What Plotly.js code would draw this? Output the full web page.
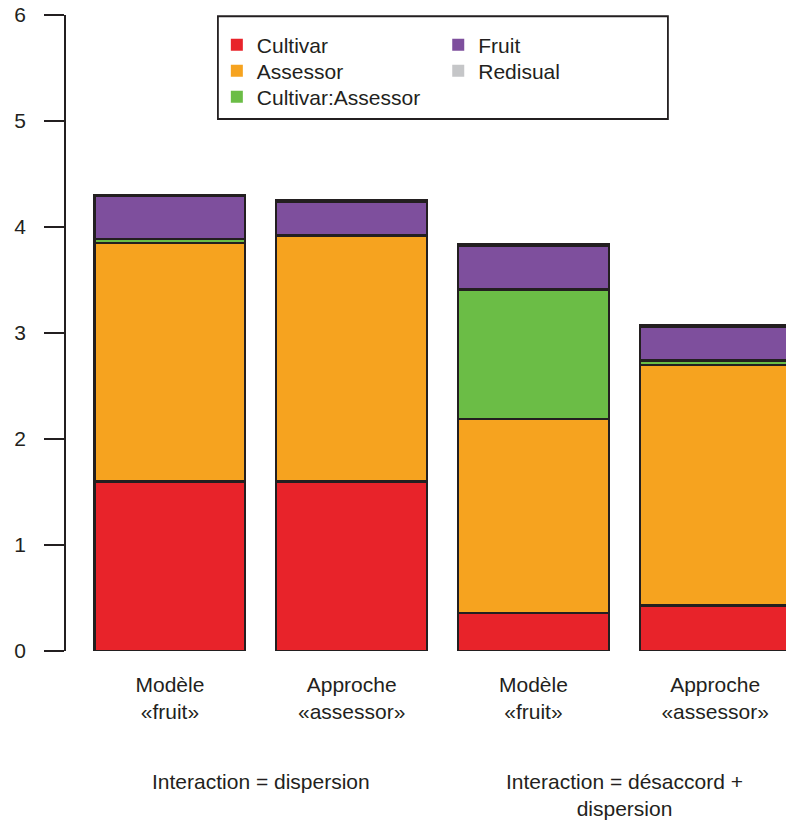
<!DOCTYPE html>
<html>
<head>
<meta charset="utf-8">
<script src="https://cdn.plot.ly/plotly-3.0.1.min.js"></script>
<style>html,body{margin:0;padding:0;background:#fff;}#chart{width:786px;height:821px;}</style>
</head>
<body>
<div id="chart"></div>
<script>
// Data
const positions = [0, 1, 2, 3];
const tickLabels = ["Modèle<br>«fruit»", "Approche<br>«assessor»", "Modèle<br>«fruit»", "Approche<br>«assessor»"];
const groupLabels = ["Interaction = dispersion", "Interaction = désaccord +<br>dispersion"];
const groupCenters = [0.5, 2.5];
const seriesNames = ["Cultivar", "Assessor", "Cultivar:Assessor", "Fruit", "Redisual"];
const cultivar = [1.60, 1.60, 0.36, 0.43];
const assessor = [2.25, 2.32, 1.83, 2.27];
const cultivarAssessor = [0.04, 0.0, 1.22, 0.04];
const fruit = [0.40, 0.32, 0.41, 0.315];
const residual = [0.015, 0.015, 0.015, 0.015];
const colors = ["#E8232A", "#F6A31F", "#6BBD46", "#7E4F9D", "#C5C6C8"];

const values = [cultivar, assessor, cultivarAssessor, fruit, residual];
const outline = "#231F20";
const FONT = "Liberation Sans, Arial, Helvetica, sans-serif";

// legend slot for each series: [column x (paper), row top y (paper)]
const legendNames = ["legend", "legend2", "legend3", "legend4", "legend5"];
const legendPos = [[0.2095, 0.985], [0.2095, 0.9442], [0.2095, 0.9033], [0.517, 0.985], [0.517, 0.9442]];

const traces = [];
values.forEach((v, i) => {
  traces.push({
    type: "bar", x: positions, y: v, name: seriesNames[i],
    marker: {color: colors[i], line: {color: outline, width: 2.2}},
    showlegend: false, hoverinfo: "skip"
  });
});
// legend entries (borderless squares)
values.forEach((v, i) => {
  traces.push({
    type: "scatter", mode: "markers", x: [null], y: [null], name: seriesNames[i],
    marker: {symbol: "square", size: 12, color: colors[i], line: {width: 0}},
    legend: legendNames[i], showlegend: true
  });
});

const legendFont = {size: 21, family: FONT, color: "#231F20"};
const layout = {
  width: 786, height: 821,
  margin: {l: 66, r: 0, t: 15, b: 170},
  paper_bgcolor: "#fff", plot_bgcolor: "#fff",
  font: {family: FONT, size: 21, color: "#231F20"},
  barmode: "stack", bargap: 0.17,
  xaxis: {
    range: [-0.572, 3.39], tickvals: positions, ticktext: tickLabels,
    showgrid: false, zeroline: false, showline: false, ticks: "",
    ticklabelstandoff: 19, tickfont: {size: 21, family: FONT, color: "#231F20"}
  },
  yaxis: {
    range: [0, 6], tickvals: [0, 1, 2, 3, 4, 5, 6],
    showgrid: false, zeroline: false, showline: true, linecolor: outline, linewidth: 1.8,
    ticks: "outside", ticklen: 20, tickwidth: 1.8, tickcolor: outline,
    ticklabelstandoff: 14, tickfont: {size: 21, family: FONT, color: "#231F20"}
  },
  shapes: [{
    type: "rect", xref: "paper", yref: "paper",
    x0: 0.211, x1: 0.836, y0: 0.8365, y1: 0.998,
    line: {color: outline, width: 1.8}, fillcolor: "rgba(0,0,0,0)", layer: "above"
  }],
  annotations: groupLabels.map((t, i) => ({
    text: t, x: groupCenters[i], xref: "x", y: 0, yref: "paper",
    yanchor: "top", yshift: -117, showarrow: false, align: "center",
    font: {size: 21, family: FONT, color: "#231F20"}
  }))
};
legendNames.forEach((ln, i) => {
  layout[ln] = {
    x: legendPos[i][0], xanchor: "left", y: legendPos[i][1], yanchor: "top",
    bgcolor: "rgba(0,0,0,0)", borderwidth: 0, font: legendFont
  };
});

Plotly.newPlot("chart", traces, layout, {displayModeBar: false, staticPlot: true});
</script>
</body>
</html>
